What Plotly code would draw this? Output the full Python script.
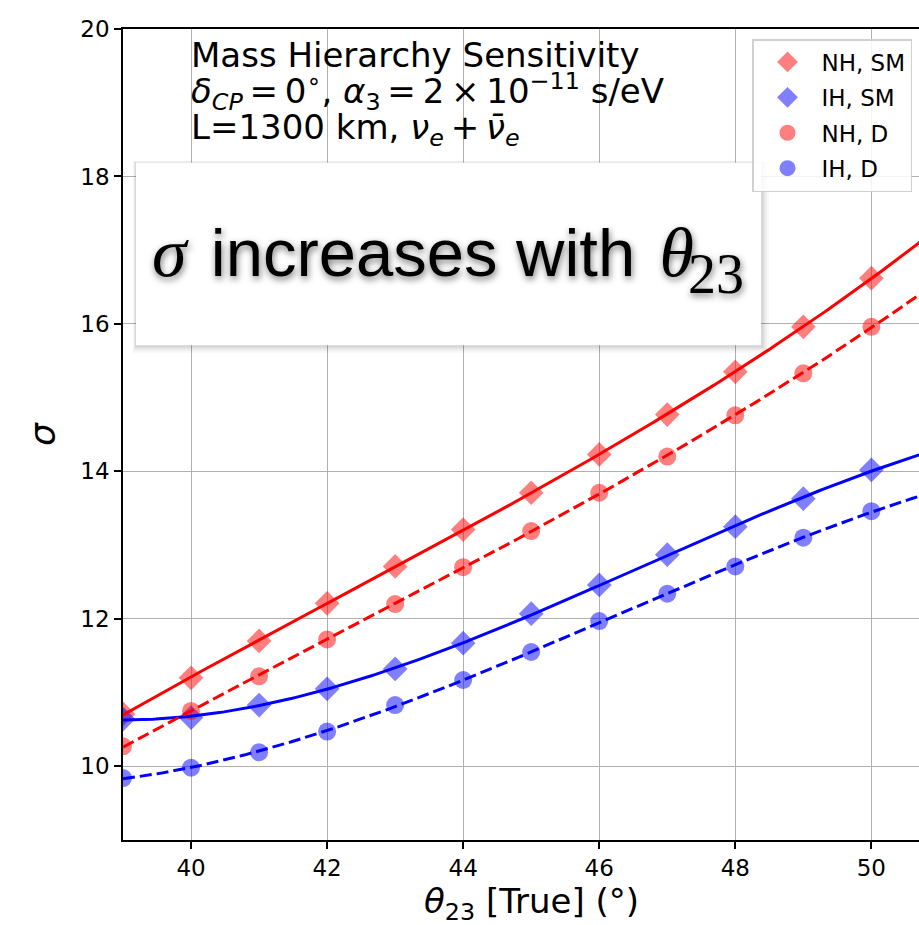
import numpy as np
import plotly.graph_objects as go

# True theta_23 values (degrees)
theta23 = [39, 40, 41, 42, 43, 44, 45, 46, 47, 48, 49, 50]

# Mass-hierarchy sensitivity (sigma) for each hypothesis
nh_sm = [10.71, 11.20, 11.70, 12.21, 12.71, 13.21, 13.71, 14.23, 14.77, 15.35, 15.96, 16.62]
ih_sm = [10.64, 10.66, 10.83, 11.05, 11.32, 11.67, 12.07, 12.46, 12.87, 13.25, 13.63, 14.02]
nh_d = [10.27, 10.75, 11.22, 11.72, 12.20, 12.70, 13.19, 13.71, 14.20, 14.76, 15.33, 15.96]
ih_d = [9.84, 9.98, 10.19, 10.47, 10.83, 11.17, 11.55, 11.97, 12.34, 12.71, 13.10, 13.46]

x_ticks = [40, 42, 44, 46, 48, 50]
y_ticks = [10, 12, 14, 16, 18, 20]

W, H = 919, 925
ML, MR, MT, MB = 123, 0, 29, 85
X_RANGE = [39, 50.7]
Y_RANGE = [9, 20]


def px_x(p):
    return (p - ML) / (W - ML - MR)


def px_y(p):
    return 1 - (p - MT) / (H - MT - MB)


series = [
    ("NH, SM", nh_sm, "rgba(255,0,0,0.5)", "red", "diamond", 19, "solid"),
    ("IH, SM", ih_sm, "rgba(0,0,255,0.5)", "blue", "diamond", 19, "solid"),
    ("NH, D", nh_d, "rgba(255,0,0,0.5)", "red", "circle", 18, "12px,5px"),
    ("IH, D", ih_d, "rgba(0,0,255,0.5)", "blue", "circle", 18, "12px,5px"),
]

fig = go.Figure()

# scatter points
for name, vals, mcol, lcol, sym, size, dash in series:
    fig.add_trace(go.Scatter(
        x=theta23, y=vals, mode="markers", name=name,
        marker=dict(symbol=sym, size=size, color=mcol, line=dict(width=0)),
        legendgroup=name,
    ))

# smooth cubic fits through each series
xfit = np.linspace(39, 51, 300)
for name, vals, mcol, lcol, sym, size, dash in series:
    coef = np.polyfit(theta23, vals, 3)
    fig.add_trace(go.Scatter(
        x=xfit, y=np.polyval(coef, xfit), mode="lines", showlegend=False,
        line=dict(color=lcol, width=3, dash=dash), hoverinfo="skip",
    ))

# callout box with soft shadow
bx0, bx1, by0, by1 = 39.19, 48.38, 15.71, 18.19
dx, dy = 1 / 68.0, 1 / 73.7
for k, op in [(8, 0.025), (6, 0.035), (4, 0.05), (2, 0.07)]:
    fig.add_shape(type="rect", xref="x", yref="y",
                  x0=bx0 - k * dx * 0.4, x1=bx1 + k * dx, y0=by0 - k * dy, y1=by1 + k * dy * 0.2,
                  line=dict(width=0), fillcolor=f"rgba(0,0,0,{op})", layer="above")
fig.add_shape(type="rect", xref="x", yref="y", x0=bx0, x1=bx1, y0=by0, y1=by1,
              line=dict(width=0), fillcolor="white", layer="above")

shadow = "1px 3px 7px rgba(0,0,0,0.55)"
hs = "\u200a"
fig.add_annotation(
    xref="paper", yref="paper", x=px_x(150), y=px_y(253), xanchor="left", yanchor="middle",
    showarrow=False,
    text=('<span style="font-family:\'Liberation Serif\';font-style:italic;font-size:70px">σ</span>'
          f' {hs}increases with {hs}'
          '<span style="font-family:\'Liberation Serif\';font-style:italic;font-size:70px">θ</span>'),
    font=dict(family="Liberation Sans", size=67, color="black", shadow=shadow),
)
fig.add_annotation(
    xref="paper", yref="paper", x=px_x(686), y=px_y(274), xanchor="left", yanchor="middle",
    showarrow=False, text="23",
    font=dict(family="Liberation Serif", size=56, color="black", shadow=shadow),
)

# description text in the upper left
ts = "\u2009"
info_lines = [
    "Mass Hierarchy Sensitivity",
    (f"<i>δ</i><sub><i>CP</i></sub>{ts}={ts}0<sup>∘</sup>, <i>α</i><sub>3</sub>{ts}={ts}2{ts}×{ts}10"
     "<sup>−11</sup> s/eV"),
    f"L=1300 km, <i>ν</i><sub><i>e</i></sub>{ts}+{ts}<i>ν̄</i><sub><i>e</i></sub>",
]
for i, line in enumerate(info_lines):
    fig.add_annotation(
        xref="paper", yref="paper", x=px_x(189), y=px_y(55 + 37 * i),
        xanchor="left", yanchor="middle", showarrow=False, text=line,
        font=dict(family="DejaVu Sans", size=34, color="black"),
    )

# x-axis title
fig.add_annotation(
    xref="paper", yref="paper", x=px_x(531), y=px_y(903), xanchor="center", yanchor="middle",
    showarrow=False, text="<i>θ</i><sub>23</sub> [True] (°)",
    font=dict(family="DejaVu Sans", size=34, color="black"),
)

axis_common = dict(
    showgrid=True, gridcolor="#b0b0b0", gridwidth=1.4,
    showline=True, linecolor="black", linewidth=1.6,
    ticks="outside", ticklen=7, tickwidth=1.5, tickcolor="black",
    tickfont=dict(family="DejaVu Sans", size=23, color="black"),
    zeroline=False,
)

fig.update_layout(
    width=W, height=H,
    margin=dict(l=ML, r=MR, t=MT, b=MB),
    plot_bgcolor="white", paper_bgcolor="white",
    xaxis=dict(range=X_RANGE, tickvals=x_ticks, mirror=True, **axis_common),
    yaxis=dict(range=Y_RANGE, tickvals=y_ticks,
               title=dict(text="<i>σ</i>", font=dict(family="DejaVu Sans", size=36, color="black"),
                          standoff=14),
               **axis_common),
    legend=dict(
        x=px_x(752), y=px_y(39), xanchor="left", yanchor="top",
        bgcolor="rgba(255,255,255,0.85)", bordercolor="#d0d0d0", borderwidth=1.5,
        font=dict(family="DejaVu Sans", size=23, color="black"),
        tracegroupgap=2.5, itemwidth=58,
    ),
    showlegend=True,
)

fig.write_html("out.html")
